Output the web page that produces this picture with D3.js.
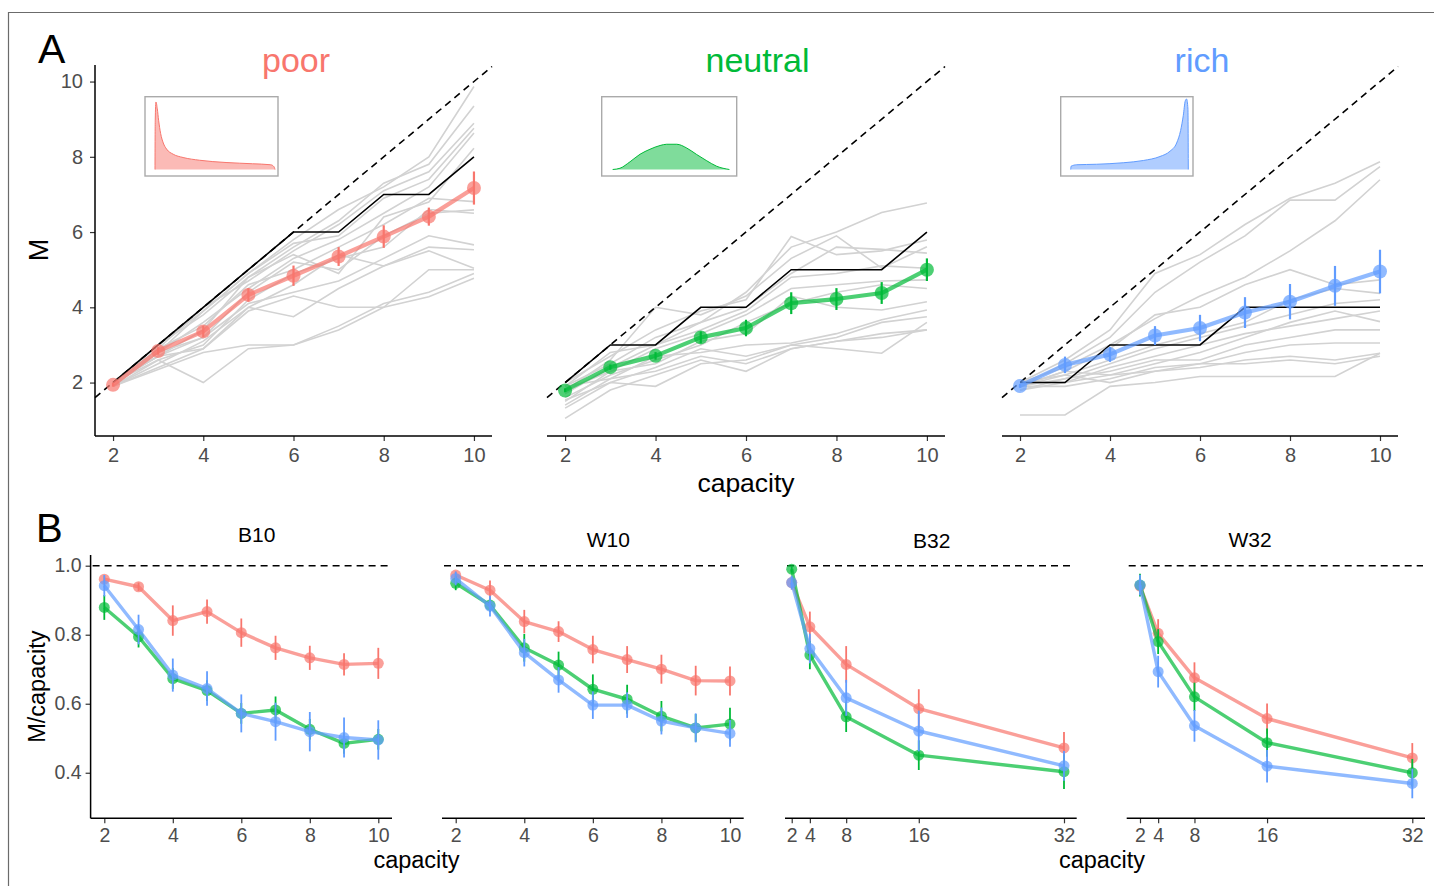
<!DOCTYPE html>
<html>
<head>
<meta charset="utf-8">
<script src="https://cdn.jsdelivr.net/npm/d3@7"></script>
<style>
html,body{margin:0;padding:0;background:#fff;}
svg text{font-family:"Liberation Sans",Arial,Helvetica,sans-serif;}
</style>
</head>
<body>
<svg id="chart" width="1434" height="886"></svg>
<script>
// ---------------- DATA ----------------
const conditions = ["poor", "neutral", "rich"];
const condColors = ["#F8766D", "#00BA38", "#619CFF"];
const capA = [2, 3, 4, 5, 6, 7, 8, 9, 10];
const ticksA = [2, 4, 6, 8, 10];

const poorMean = [1.94, 2.84, 3.36, 4.33, 4.84, 5.35, 5.88, 6.41, 7.17];
const poorErr = [0.05, 0.1, 0.15, 0.18, 0.27, 0.25, 0.3, 0.24, 0.44];
const neutralMean = [1.79, 2.41, 2.71, 3.20, 3.45, 4.11, 4.22, 4.38, 5.0];
const neutralErr = [0.05, 0.07, 0.1, 0.16, 0.22, 0.29, 0.29, 0.29, 0.3];
const richMean = [1.91, 2.47, 2.75, 3.25, 3.45, 3.86, 4.15, 4.57, 4.95];
const richErr = [0.05, 0.22, 0.2, 0.25, 0.35, 0.41, 0.47, 0.53, 0.58];

const poorOptimal = [2, 3, 4, 5, 6, 6, 7, 7, 8];
const neutralOptimal = [2, 3, 3, 4, 4, 5, 5, 5, 6];
const richOptimal = [2, 2, 3, 3, 3, 4, 4, 4, 4];

const poorSubjects = [
  [2.0, 2.8, 3.9, 4.9, 5.8, 6.6, 7.2, 8.0, 9.87],
  [2.0, 3.0, 3.8, 4.8, 5.6, 6.3, 7.3, 7.8, 9.35],
  [2.0, 2.9, 4.0, 4.7, 5.5, 6.2, 7.1, 7.6, 8.89],
  [2.0, 3.0, 3.9, 4.9, 5.7, 5.9, 6.9, 7.4, 8.76],
  [1.9, 2.8, 3.6, 4.5, 5.3, 5.8, 6.5, 7.2, 8.63],
  [2.0, 2.7, 3.4, 4.8, 5.4, 4.9, 6.4, 6.8, 8.23],
  [1.9, 2.9, 3.5, 4.6, 5.0, 5.6, 6.2, 6.9, 6.81],
  [2.0, 2.7, 3.2, 4.4, 5.2, 5.0, 5.9, 6.5, 6.59],
  [1.9, 2.6, 3.0, 4.2, 4.9, 5.3, 5.6, 6.6, 6.5],
  [2.0, 2.8, 3.2, 4.1, 4.4, 4.7, 5.3, 5.9, 5.66],
  [1.9, 2.5, 3.1, 4.0, 4.6, 5.4, 5.1, 5.6, 5.53],
  [2.0, 2.7, 2.9, 4.0, 3.75, 4.5, 5.1, 5.5, 5.04],
  [1.9, 2.4, 2.9, 3.9, 4.3, 4.0, 4.0, 5.0, 5.0],
  [2.0, 2.6, 2.0, 2.9, 3.0, 3.4, 4.0, 4.28, 4.77],
  [1.9, 2.35, 2.8, 3.0, 3.0, 3.5, 4.1, 4.4, 4.9]
];
const neutralSubjects = [
  [1.9, 2.8, 3.0, 3.6, 4.4, 5.6, 6.0, 6.52, 6.77],
  [2.0, 2.7, 3.4, 3.9, 4.2, 5.88, 5.4, 5.5, 5.79],
  [1.8, 2.6, 4.0, 3.8, 4.3, 5.3, 5.9, 5.04, 5.61],
  [1.9, 2.5, 3.2, 3.6, 4.0, 4.9, 5.6, 5.54, 5.44],
  [1.7, 2.4, 3.0, 3.4, 3.9, 4.8, 4.9, 5.1, 5.04],
  [1.8, 2.3, 2.9, 3.3, 3.8, 4.5, 4.6, 4.7, 4.73],
  [1.6, 2.2, 2.6, 3.0, 3.6, 4.1, 4.4, 4.6, 4.5],
  [1.5, 2.3, 2.5, 3.1, 3.3, 4.3, 4.0, 3.93, 4.15],
  [1.9, 2.1, 2.7, 2.8, 3.0, 3.05, 3.3, 3.67, 3.93],
  [1.32, 2.0, 2.4, 2.9, 2.7, 3.0, 3.2, 3.6, 3.75],
  [1.05, 1.8, 2.2, 2.6, 2.3, 2.9, 3.1, 3.3, 3.4],
  [1.54, 2.0, 1.9, 2.5, 2.6, 3.0, 2.9, 2.78, 3.6],
  [1.4, 2.1, 2.3, 2.7, 2.5, 2.9, 3.1, 3.2, 3.4]
];
const richSubjects = [
  [2.0, 2.6, 3.4, 4.9, 5.4, 6.2, 6.9, 7.3, 7.87],
  [1.9, 2.5, 3.2, 4.4, 5.2, 5.9, 6.85, 6.85, 7.74],
  [2.0, 2.4, 3.0, 3.7, 4.3, 4.8, 5.5, 6.3, 7.39],
  [1.9, 2.3, 2.9, 3.8, 4.0, 4.6, 5.0, 4.6, 4.73],
  [2.0, 2.2, 2.6, 3.0, 3.3, 3.6, 4.2, 4.5, 4.37],
  [1.9, 2.1, 2.5, 2.9, 3.2, 3.5, 3.8, 4.1, 4.2],
  [2.0, 2.0, 2.4, 2.7, 3.0, 3.3, 3.5, 3.7, 3.9],
  [1.9, 2.3, 2.2, 2.5, 2.8, 3.2, 3.6, 3.9, 3.62],
  [1.8, 2.1, 2.3, 2.6, 2.6, 3.0, 3.2, 3.4, 3.4],
  [1.9, 1.9, 2.1, 2.4, 2.5, 2.8, 3.0, 3.05, 3.05],
  [1.8, 2.0, 2.2, 2.3, 2.4, 2.6, 2.7, 2.6, 2.78],
  [1.14, 1.14, 1.9, 2.0, 2.16, 2.16, 2.16, 2.16, 2.78],
  [1.9, 2.2, 2.0, 2.3, 2.5, 2.5, 2.6, 2.5, 2.7]
];

// wealth distributions shown in the insets (relative position, density)
const poorDensityX = [0, 0.002, 0.008, 0.019, 0.030, 0.047, 0.069, 0.096, 0.152, 0.234, 0.372, 0.592, 0.813, 0.964, 0.992, 1.0];
const poorDensityY = [0, 1.97, 2.7, 2.43, 1.97, 1.44, 1.06, 0.82, 0.61, 0.48, 0.37, 0.28, 0.23, 0.19, 0.11, 0];
const neutralDensityX = [0.008, 0.069, 0.153, 0.236, 0.319, 0.403, 0.458, 0.542, 0.625, 0.708, 0.792, 0.875, 0.981];
const neutralDensityY = [0, 0.05, 0.31, 0.61, 0.81, 0.96, 1.01, 1.01, 0.86, 0.6, 0.35, 0.13, 0];
const richDensityX = [0, 0.003, 0.05, 0.216, 0.438, 0.605, 0.744, 0.827, 0.883, 0.916, 0.938, 0.955, 0.966, 0.977, 0.98];
const richDensityY = [0, 0.13, 0.19, 0.21, 0.27, 0.36, 0.52, 0.73, 1.06, 1.56, 2.15, 2.75, 2.82, 2.42, 0];

// Panel B
const tasksB = ["B10", "W10", "B32", "W32"];
const capB10 = [2, 3, 4, 5, 6, 7, 8, 9, 10];
const capB32 = [2, 4, 8, 16, 32];
const ticksB10 = [2, 4, 6, 8, 10];
const ticksB32 = [2, 4, 8, 16, 32];
const ticksBy = [0.4, 0.6, 0.8, 1.0];

const B10poor = [0.961, 0.939, 0.841, 0.867, 0.806, 0.762, 0.733, 0.714, 0.717];
const B10poorErr = [0.01, 0.012, 0.044, 0.035, 0.041, 0.035, 0.035, 0.032, 0.045];
const B10neutral = [0.879, 0.794, 0.673, 0.638, 0.572, 0.582, 0.526, 0.485, 0.497];
const B10neutralErr = [0.036, 0.031, 0.03, 0.03, 0.03, 0.039, 0.03, 0.03, 0.03];
const B10rich = [0.942, 0.815, 0.683, 0.644, 0.572, 0.548, 0.519, 0.502, 0.495];
const B10richErr = [0.031, 0.043, 0.048, 0.05, 0.055, 0.055, 0.057, 0.058, 0.057];

const W10poor = [0.973, 0.929, 0.838, 0.809, 0.757, 0.728, 0.700, 0.667, 0.666];
const W10poorErr = [0.01, 0.028, 0.034, 0.03, 0.04, 0.039, 0.042, 0.043, 0.042];
const W10neutral = [0.949, 0.886, 0.762, 0.712, 0.642, 0.613, 0.564, 0.530, 0.541];
const W10neutralErr = [0.02, 0.02, 0.04, 0.039, 0.043, 0.042, 0.044, 0.04, 0.047];
const W10rich = [0.963, 0.883, 0.748, 0.669, 0.596, 0.596, 0.550, 0.530, 0.514];
const W10richErr = [0.02, 0.03, 0.04, 0.037, 0.04, 0.037, 0.039, 0.042, 0.039];

const B32poor = [0.951, 0.823, 0.714, 0.586, 0.472];
const B32poorErr = [0.02, 0.044, 0.053, 0.056, 0.046];
const B32neutral = [0.990, 0.741, 0.562, 0.451, 0.403];
const B32neutralErr = [0.01, 0.041, 0.044, 0.043, 0.05];
const B32rich = [0.951, 0.760, 0.617, 0.521, 0.420];
const B32richErr = [0.02, 0.043, 0.052, 0.059, 0.043];

const W32poor = [0.941, 0.804, 0.675, 0.557, 0.443];
const W32poorErr = [0.02, 0.041, 0.045, 0.044, 0.043];
const W32neutral = [0.944, 0.780, 0.620, 0.487, 0.400];
const W32neutralErr = [0.033, 0.036, 0.041, 0.041, 0.04];
const W32rich = [0.944, 0.693, 0.536, 0.419, 0.369];
const W32richErr = [0.03, 0.046, 0.046, 0.047, 0.043];

// ---------------- DRAWING ----------------
const svg = d3.select("#chart");
svg.append("rect").attr("width", 1434).attr("height", 886).attr("fill", "#fff");
// frame
svg.append("path").attr("d", "M8.5,886 L8.5,12.5 L1434,12.5")
  .attr("fill", "none").attr("stroke", "#6b6b6b").attr("stroke-width", 1.2);

const TICK_COLOR = "#4d4d4d";

function styleAxis(g, fs) {
  g.select(".domain").remove();
  g.selectAll(".tick line").attr("stroke", "#333").attr("stroke-width", 1.2);
  g.selectAll(".tick text").attr("fill", TICK_COLOR).style("font-size", fs + "px")
    .style("font-family", '"Liberation Sans",Arial,Helvetica,sans-serif');
}

// ---- Panel A ----
const yA = d3.scaleLinear().domain([0.58, 10.44]).range([436, 65]);
const panelsA = [
  { name: "poor", x0: 95, x1: 492, titleX: 296, mean: poorMean, err: poorErr, opt: poorOptimal, subj: poorSubjects,
    box: [145, 96.7, 133, 79.3], dX: poorDensityX, dY: poorDensityY, yAxis: true },
  { name: "neutral", x0: 547, x1: 945, titleX: 757.5, mean: neutralMean, err: neutralErr, opt: neutralOptimal, subj: neutralSubjects,
    box: [601.7, 96.7, 135, 79.3], dX: neutralDensityX, dY: neutralDensityY, yAxis: false },
  { name: "rich", x0: 1002, x1: 1398, titleX: 1202, mean: richMean, err: richErr, opt: richOptimal, subj: richSubjects,
    box: [1060.7, 96.7, 132.3, 79.3], dX: richDensityX, dY: richDensityY, yAxis: false }
];

panelsA.forEach((p, i) => {
  const color = condColors[i];
  const x = d3.scaleLinear().domain([1.6, 10.4]).range([p.x0, p.x1]);
  const g = svg.append("g");
  const line = d3.line().x((d, j) => x(capA[j])).y(d => yA(d));

  // subjects
  p.subj.forEach(s => {
    g.append("path").attr("d", line(s)).attr("fill", "none")
      .attr("stroke", "#d2d2d2").attr("stroke-width", 1.6);
  });
  // identity dashed
  g.append("path").attr("d", d3.line()([[x(1.6), yA(1.6)], [x(10.4), yA(10.4)]]))
    .attr("stroke", "#000").attr("stroke-width", 1.6).attr("stroke-dasharray", "7,5").attr("fill", "none");
  // optimal
  g.append("path").attr("d", line(p.opt)).attr("fill", "none").attr("stroke", "#000").attr("stroke-width", 1.6);
  // mean line
  g.append("path").attr("d", line(p.mean)).attr("fill", "none").attr("stroke", color)
    .attr("stroke-width", 4.2).attr("stroke-opacity", 0.7).attr("stroke-linejoin", "round");
  g.selectAll(".pt").data(p.mean).enter().append("circle")
    .attr("cx", (d, j) => x(capA[j])).attr("cy", d => yA(d)).attr("r", 7)
    .attr("fill", color).attr("fill-opacity", 0.7);
  g.selectAll(".eb").data(p.mean).enter().append("line")
    .attr("x1", (d, j) => x(capA[j])).attr("x2", (d, j) => x(capA[j]))
    .attr("y1", (d, j) => yA(d - p.err[j])).attr("y2", (d, j) => yA(d + p.err[j]))
    .attr("stroke", color).attr("stroke-width", 2.2);

  // x axis
  const ax = svg.append("g").attr("transform", "translate(0,436)")
    .call(d3.axisBottom(x).tickValues(ticksA).tickSize(5).tickPadding(7));
  styleAxis(ax, 20);
  svg.append("line").attr("x1", p.x0).attr("x2", p.x1).attr("y1", 436).attr("y2", 436)
    .attr("stroke", "#000").attr("stroke-width", 1.5);
  if (p.yAxis) {
    const ay = svg.append("g").attr("transform", `translate(${p.x0},0)`)
      .call(d3.axisLeft(yA).tickValues(ticksA).tickSize(5).tickPadding(7));
    styleAxis(ay, 20);
    svg.append("line").attr("x1", p.x0).attr("x2", p.x0).attr("y1", 65).attr("y2", 436)
      .attr("stroke", "#000").attr("stroke-width", 1.5);
  }
  // title
  svg.append("text").attr("x", p.titleX).attr("y", 72).attr("text-anchor", "middle")
    .style("font-size", "34px").attr("fill", color).text(conditions[i]);

  // inset
  const [bx, by, bw, bh] = p.box;
  svg.append("rect").attr("x", bx).attr("y", by).attr("width", bw).attr("height", bh)
    .attr("fill", "#fff").attr("stroke", "#aaaaaa").attr("stroke-width", 1.4);
  const dx = d3.scaleLinear().domain([0, 1]).range([bx + 10, bx + 130]);
  const dy = d3.scaleLinear().domain([0, 3]).range([by + bh - 6.5, by + bh - 6.5 - 75]);
  const pts = p.dX.map((v, j) => [v, p.dY[j]]);
  const area = d3.area().x(d => dx(d[0])).y0(dy(0)).y1(d => dy(d[1])).curve(d3.curveMonotoneX);
  const ln = d3.line().x(d => dx(d[0])).y(d => dy(d[1])).curve(d3.curveMonotoneX);
  svg.append("path").attr("d", area(pts)).attr("fill", color).attr("fill-opacity", 0.5);
  svg.append("path").attr("d", ln(pts)).attr("fill", "none").attr("stroke", color).attr("stroke-width", 1);
});

// Panel A labels
svg.append("text").attr("x", 38).attr("y", 63).style("font-size", "41px").attr("fill", "#000").text("A");
svg.append("text").attr("transform", "translate(48,250) rotate(-90)").attr("text-anchor", "middle")
  .style("font-size", "27px").attr("fill", "#000").text("M");
svg.append("text").attr("x", 746).attr("y", 492).attr("text-anchor", "middle")
  .style("font-size", "26.5px").attr("fill", "#000").text("capacity");

// ---- Panel B ----
const yB = d3.scaleLinear().domain([0.268, 1.031]).range([818.3, 555]);
const panelsB = [
  { x0: 90.6, x1: 392, dom: [1.6, 10.4], cap: capB10, ticks: ticksB10, titleX: 256.7, titleY: 542, yAxis: true,
    series: [[B10poor, B10poorErr], [B10neutral, B10neutralErr], [B10rich, B10richErr]] },
  { x0: 442, x1: 743.7, dom: [1.6, 10.4], cap: capB10, ticks: ticksB10, titleX: 608.3, titleY: 547, yAxis: false,
    series: [[W10poor, W10poorErr], [W10neutral, W10neutralErr], [W10rich, W10richErr]] },
  { x0: 785, x1: 1076.7, dom: [1.26, 33.4], cap: capB32, ticks: ticksB32, titleX: 931.7, titleY: 548, yAxis: false,
    series: [[B32poor, B32poorErr], [B32neutral, B32neutralErr], [B32rich, B32richErr]] },
  { x0: 1126.7, x1: 1425, dom: [0.535, 33.4], cap: capB32, ticks: ticksB32, titleX: 1250, titleY: 547, yAxis: false,
    series: [[W32poor, W32poorErr], [W32neutral, W32neutralErr], [W32rich, W32richErr]] }
];

panelsB.forEach((p, k) => {
  const x = d3.scaleLinear().domain(p.dom).range([p.x0, p.x1]);
  const g = svg.append("g");
  g.append("line").attr("x1", p.x0 + 2).attr("x2", p.x1 - 2).attr("y1", yB(1)).attr("y2", yB(1))
    .attr("stroke", "#000").attr("stroke-width", 1.5).attr("stroke-dasharray", "7,5");
  p.series.forEach(([vals, errs], i) => {
    const color = condColors[i];
    const line = d3.line().x((d, j) => x(p.cap[j])).y(d => yB(d));
    g.append("path").attr("d", line(vals)).attr("fill", "none").attr("stroke", color)
      .attr("stroke-width", 3.4).attr("stroke-opacity", 0.7).attr("stroke-linejoin", "round");
    g.selectAll(null).data(vals).enter().append("circle")
      .attr("cx", (d, j) => x(p.cap[j])).attr("cy", d => yB(d)).attr("r", 5.5)
      .attr("fill", color).attr("fill-opacity", 0.7);
    g.selectAll(null).data(vals).enter().append("line")
      .attr("x1", (d, j) => x(p.cap[j])).attr("x2", (d, j) => x(p.cap[j]))
      .attr("y1", (d, j) => yB(d - errs[j])).attr("y2", (d, j) => yB(d + errs[j]))
      .attr("stroke", color).attr("stroke-width", 1.8);
  });
  const ax = svg.append("g").attr("transform", "translate(0,818.3)")
    .call(d3.axisBottom(x).tickValues(p.ticks).tickSize(5).tickPadding(5));
  styleAxis(ax, 19.5);
  svg.append("line").attr("x1", p.x0).attr("x2", p.x1).attr("y1", 818.3).attr("y2", 818.3)
    .attr("stroke", "#000").attr("stroke-width", 1.5);
  if (p.yAxis) {
    const ay = svg.append("g").attr("transform", `translate(${p.x0},0)`)
      .call(d3.axisLeft(yB).tickValues(ticksBy).tickSize(5).tickPadding(4).tickFormat(d3.format(".1f")));
    styleAxis(ay, 19.5);
    svg.append("line").attr("x1", p.x0).attr("x2", p.x0).attr("y1", 555).attr("y2", 818.3)
      .attr("stroke", "#000").attr("stroke-width", 1.5);
  }
  svg.append("text").attr("x", p.titleX).attr("y", p.titleY).attr("text-anchor", "middle")
    .style("font-size", "21px").attr("fill", "#000").text(tasksB[k]);
});

svg.append("text").attr("x", 36).attr("y", 542).style("font-size", "40px").attr("fill", "#000").text("B");
svg.append("text").attr("transform", "translate(45,686.7) rotate(-90)").attr("text-anchor", "middle")
  .style("font-size", "23.5px").attr("fill", "#000").text("M/capacity");
svg.append("text").attr("x", 416.5).attr("y", 868).attr("text-anchor", "middle")
  .style("font-size", "23.5px").attr("fill", "#000").text("capacity");
svg.append("text").attr("x", 1102).attr("y", 868).attr("text-anchor", "middle")
  .style("font-size", "23.5px").attr("fill", "#000").text("capacity");
</script>
</body>
</html>
